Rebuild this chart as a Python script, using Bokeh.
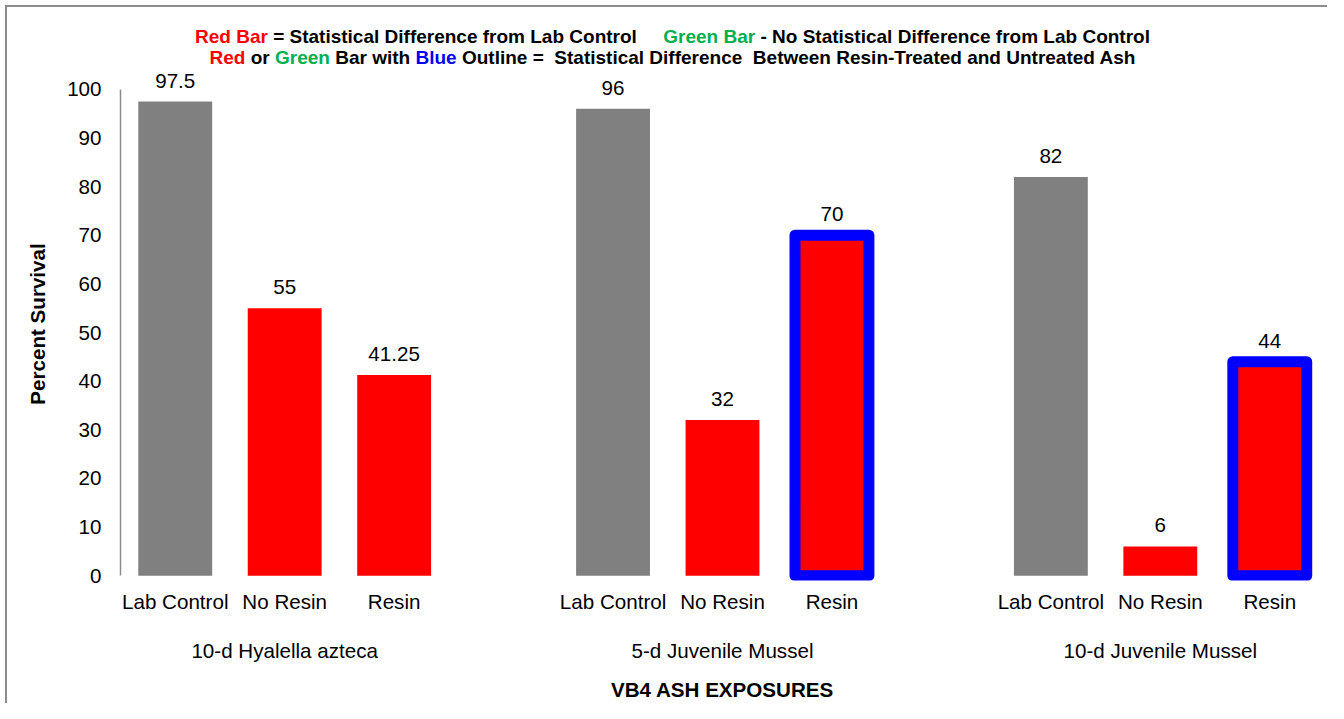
from bokeh.plotting import figure
from bokeh.models import Range1d, LinearAxis, FixedTicker, Div, ColumnDataSource
from bokeh.layouts import column
from bokeh.embed import file_html
from bokeh.resources import INLINE
from bokeh.core.properties import value

# ---------------- data ----------------
groups = ["10-d Hyalella azteca", "5-d Juvenile Mussel", "10-d Juvenile Mussel"]
treatments = ["Lab Control", "No Resin", "Resin"]
survival_hyalella = [97.5, 55, 41.25]
survival_mussel_5d = [96, 32, 70]
survival_mussel_10d = [82, 6, 44]
diff_from_control_hyalella = [False, True, True]
diff_from_control_mussel_5d = [False, True, True]
diff_from_control_mussel_10d = [False, True, True]
resin_vs_untreated_hyalella = [False, False, False]
resin_vs_untreated_mussel_5d = [False, False, True]
resin_vs_untreated_mussel_10d = [False, False, True]
y_ticks = [0, 10, 20, 30, 40, 50, 60, 70, 80, 90, 100]

survival = [survival_hyalella, survival_mussel_5d, survival_mussel_10d]
diff_ctrl = [diff_from_control_hyalella, diff_from_control_mussel_5d, diff_from_control_mussel_10d]
diff_resin = [resin_vs_untreated_hyalella, resin_vs_untreated_mussel_5d, resin_vs_untreated_mussel_10d]

GRAY = "#808080"
RED = "#ff0000"
GREEN = "#00b050"
BLUE = "#0000ff"
FONT = "Liberation Sans"
FS = "20.6px"

# ---------------- build sources ----------------
slot = len(treatments) + 1
plain = dict(x=[], top=[], color=[], label=[])
outl = dict(x=[], top=[], color=[], label=[])
tick_pos, tick_lab = [], {}
group_pos, group_lab = [], {}
for g, gname in enumerate(groups):
    for i, tname in enumerate(treatments):
        x = g * slot + i
        v = survival[g][i]
        if i == 0:
            c = GRAY
        else:
            c = RED if diff_ctrl[g][i] else GREEN
        d = outl if diff_resin[g][i] else plain
        d["x"].append(x)
        d["top"].append(v)
        d["color"].append(c)
        d["label"].append(f"{v:g}")
        tick_pos.append(x)
        tick_lab[x] = tname
    gc = g * slot + (len(treatments) - 1) // 2
    group_pos.append(gc)
    group_lab[gc] = gname

src_plain = ColumnDataSource(plain)
src_outl = ColumnDataSource(outl)
n_slots = len(groups) * slot - 1

# ---------------- figure ----------------
p = figure(width=1320, height=636,
           x_range=Range1d(-0.5, n_slots - 0.5),
           y_range=Range1d(-1, 104.5),
           min_border_left=113, min_border_right=3,
           min_border_top=0, min_border_bottom=121,
           output_backend="svg", toolbar_location=None,
           outline_line_color=None, background_fill_color="white",
           border_fill_color="white")
p.xgrid.visible = False
p.ygrid.visible = False

BW = 0.675
p.vbar(x="x", top="top", bottom=0, width=BW, source=src_plain,
       fill_color="color", line_color=None)
p.vbar(x="x", top="top", bottom=0, width=BW, source=src_outl,
       fill_color="color", line_color=BLUE, line_width=11, line_join="round")

for src in (src_plain, src_outl):
    p.text(x="x", y="top", text="label", source=src,
           text_align="center", text_baseline="middle", y_offset=-21,
           text_font=value(FONT), text_font_size=FS, text_color="#000000")

# y axis
ya = p.yaxis[0]
ya.ticker = FixedTicker(ticks=y_ticks)
ya.bounds = (0, 100)
ya.axis_label = "Percent Survival"
ya.axis_label_text_font = FONT
ya.axis_label_text_font_style = "bold"
ya.axis_label_text_font_size = FS
ya.axis_label_text_color = "#000000"
ya.axis_label_standoff = 15
ya.major_label_text_font = FONT
ya.major_label_text_font_size = FS
ya.major_label_text_color = "#000000"
ya.major_label_standoff = 19
ya.major_tick_out = 0
ya.major_tick_in = 0
ya.minor_tick_out = 0
ya.minor_tick_in = 0
ya.axis_line_color = "#8c8c8c"
ya.axis_line_width = 1.5

# x axis (treatments)
xa = p.xaxis[0]
xa.ticker = FixedTicker(ticks=tick_pos)
xa.major_label_overrides = tick_lab
xa.major_label_text_font = FONT
xa.major_label_text_font_size = FS
xa.major_label_text_color = "#000000"
xa.major_label_standoff = 9
xa.major_tick_out = 0
xa.major_tick_in = 0
xa.minor_tick_out = 0
xa.minor_tick_in = 0
xa.axis_line_color = None

# x axis (groups)
xg = LinearAxis(ticker=FixedTicker(ticks=group_pos), major_label_overrides=group_lab,
                axis_label="VB4 ASH EXPOSURES")
xg.major_label_text_font = FONT
xg.major_label_text_font_size = FS
xg.major_label_text_color = "#000000"
xg.major_label_standoff = 23
xg.major_tick_out = 0
xg.major_tick_in = 0
xg.minor_tick_out = 0
xg.minor_tick_in = 0
xg.axis_line_color = None
xg.axis_label_text_font = FONT
xg.axis_label_text_font_style = "bold"
xg.axis_label_text_font_size = FS
xg.axis_label_text_color = "#000000"
xg.axis_label_standoff = 13
p.add_layout(xg, "below")

# ---------------- title (multi-colour) ----------------
title_html = (
    '<div style="width:1320px; box-sizing:border-box; padding-left:11px; padding-top:19px; '
    'text-align:center; font-family:\'Liberation Sans\', Arial, sans-serif; '
    'font-weight:bold; font-size:19px; line-height:21px; color:#000; white-space:nowrap;">'
    f'<span style="color:{RED}">Red Bar</span> = Statistical Difference from Lab Control'
    '&nbsp;&nbsp;&nbsp;&nbsp;&nbsp;'
    f'<span style="color:{GREEN}">Green Bar</span> - No Statistical Difference from Lab Control<br>'
    f'<span style="color:{RED}">Red</span> or <span style="color:{GREEN}">Green</span> Bar with '
    f'<span style="color:{BLUE}">Blue</span> Outline =&nbsp; Statistical Difference&nbsp; '
    'Between Resin-Treated and Untreated Ash</div>'
)
title = Div(text=title_html, width=1320, height=60, margin=0)

inner = column(title, p, spacing=0, margin=(5, 0, 0, 5),
               styles={"border-top": "2px solid #8c8c8c", "border-left": "2px solid #8c8c8c"})
layout = column(inner, spacing=0)

open("out.html", "w").write(file_html(layout, INLINE))
